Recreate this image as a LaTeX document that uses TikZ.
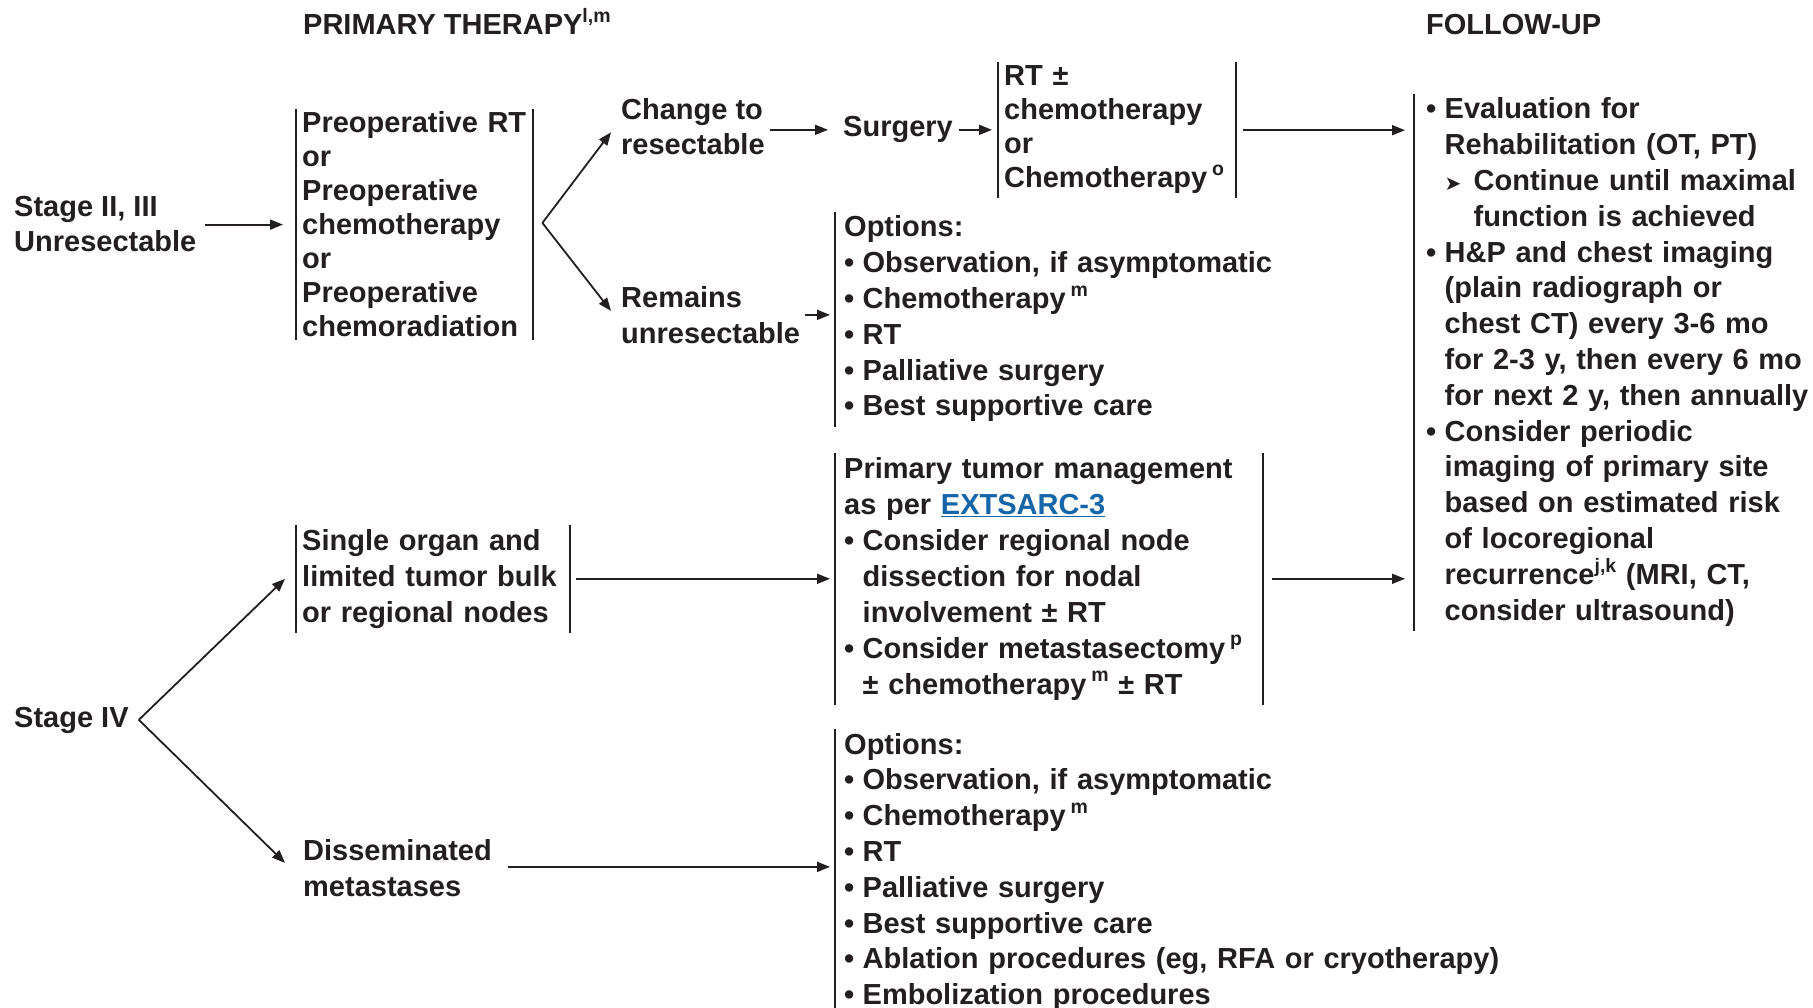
\documentclass[tikz,border=0pt]{standalone}
\usepackage{fontspec}
\setmainfont{Liberation Sans}
\newfontfamily\symfont{DejaVu Sans}
\usetikzlibrary{arrows.meta}

\definecolor{inkblack}{HTML}{231F20}
\definecolor{linkblue}{HTML}{1566A8}

\newcommand{\supr}[1]{\raisebox{0.42em}{\fontsize{19.5}{19.5}\selectfont #1}}
\newcommand{\bul}{\makebox[18.5pt][l]{\textbullet}}
\newcommand{\ind}{\hspace*{18.5pt}}
\newcommand{\subarr}{\makebox[29pt][l]{\symfont\fontsize{20}{20}\selectfont ➤}}

\begin{document}
\begin{tikzpicture}[x=1pt, y=-1pt, inkblack,
	txt/.style={font=\bfseries\fontsize{29}{35.8}\selectfont, text=inkblack, align=left, anchor=base west, inner sep=0pt, execute at begin node=\strut, execute at end node=\strut},
	leading/.style={font=\bfseries\fontsize{29}{#1}\selectfont},
	boxed/.style={txt, inner xsep=6pt},
	wideboxed/.style={txt, inner xsep=9pt},
	bar/.style={line width=2pt},
	arr/.style={line width=1.8pt, -{Triangle[length=13pt, width=10pt]}}]
		\useasboundingbox (0,0) rectangle (1813,1008);

		% Draw the column headings
		\node[txt] (headprim) at (303,35) {PRIMARY THERAPY\supr{l,m}};
		\node[txt] (headfollow) at (1426,35) {FOLLOW-UP};

		% Draw the stage II, III branch (plain nodes sit on their last line)
		\node[txt, leading=35] (stage23) at (14,252) {Stage II, III\\Unresectable};
		\node[boxed, leading=33.9, text width=225pt] (preop) at (296,133) {Preoperative RT\\or\\Preoperative\\chemotherapy\\or\\Preoperative\\chemoradiation};
		\node[txt, leading=35] (change) at (621,155) {Change to\\resectable};
		\node[txt, leading=36] (remain) at (621,344) {Remains\\unresectable};
		\node[txt] (surgery) at (843,137) {Surgery};
		\node[boxed, leading=34, text width=226pt] (adjuv) at (998,86) {RT ±\\chemotherapy\\or\\Chemotherapy\,\supr{o}};
		\node[wideboxed, text width=440pt] (opts1) at (835,237) {Options:\\
			\bul Observation, if asymptomatic\\
			\bul Chemotherapy\,\supr{m}\\
			\bul RT\\
			\bul Palliative surgery\\
			\bul Best supportive care};

		% Draw the follow-up column
		\node[txt, inner xsep=12pt, text width=395pt] (follow) at (1414,119) {\bul Evaluation for\\
			\ind Rehabilitation (OT, PT)\\
			\ind\subarr Continue until maximal\\
			\ind\hspace*{29pt}function is achieved\\
			\bul H\&P and chest imaging\\
			\ind (plain radiograph or\\
			\ind chest CT) every 3-6 mo\\
			\ind for 2-3 y, then every 6 mo\\
			\ind for next 2 y, then annually\\
			\bul Consider periodic\\
			\ind imaging of primary site\\
			\ind based on estimated risk\\
			\ind of locoregional\\
			\ind recurrence\supr{j,k} (MRI, CT,\\
			\ind consider ultrasound)};

		% Draw the stage IV branch
		\node[txt] (stage4) at (14,727) {Stage IV};
		\node[boxed, leading=36, text width=262pt] (single) at (296,550) {Single organ and\\limited tumor bulk\\or regional nodes};
		\node[wideboxed, leading=36, text width=410pt] (primtum) at (835,478) {Primary tumor management\\
			as per {\color{linkblue}\underline{EXTSARC-3}}\\
			\bul Consider regional node\\
			\ind dissection for nodal\\
			\ind involvement ± RT\\
			\bul Consider metastasectomy\,\supr{p}\\
			\ind ± chemotherapy\,\supr{m} ± RT};
		\node[txt, leading=36] (dissem) at (303,896) {Disseminated\\metastases};
		\node[wideboxed, text width=680pt] (opts2) at (835,754) {Options:\\
			\bul Observation, if asymptomatic\\
			\bul Chemotherapy\,\supr{m}\\
			\bul RT\\
			\bul Palliative surgery\\
			\bul Best supportive care\\
			\bul Ablation procedures (eg, RFA or cryotherapy)\\
			\bul Embolization procedures};

		% Draw the side bars of the boxes
		\draw[bar] (preop.north west) -- ([yshift=7pt]preop.south west);
		\draw[bar] (preop.north east) -- ([yshift=7pt]preop.south east);
		\draw[bar] (adjuv.north west) -- (adjuv.south west);
		\draw[bar] (adjuv.north east) -- (adjuv.south east);
		\draw[bar] (opts1.north west) -- (opts1.south west);
		\draw[bar] (follow.north west) -- (follow.south west);
		\draw[bar] (single.north west) -- (single.south west);
		\draw[bar] (single.north east) -- (single.south east);
		\draw[bar] (primtum.north west) -- (primtum.south west);
		\draw[bar] (primtum.north east) -- (primtum.south east);
		\draw[bar] (opts2.north west) -- (opts2.south west);

		% Draw the forks
		\coordinate (fork1) at ([xshift=9pt, yshift=5pt]preop.east);
		\coordinate (fork2) at ([xshift=10pt]stage4.east);

		% Draw the connectors
		\draw[arr, shorten <=8pt, shorten >=13pt] ([yshift=5pt]stage23.east) -- ([yshift=5pt]stage23.east -| preop.west);
		\draw[arr] (fork1) -- ([xshift=-10pt]change.west);
		\draw[arr] (fork1) -- ([xshift=-10pt, yshift=10pt]remain.west);
		\draw[arr, shorten <=5pt, shorten >=15pt] (surgery.west -| change.east) -- (surgery.west);
		\draw[arr, shorten <=6pt, shorten >=6pt] (surgery.east) -- (surgery.east -| adjuv.west);
		\draw[arr, shorten <=7pt, shorten >=9pt] (adjuv.east) -- (adjuv.east -| follow.west);
		\draw[arr, shorten <=5pt, shorten >=5pt] ([yshift=6pt]remain.east) -- ([yshift=6pt]remain.east -| opts1.west);
		\draw[arr] (fork2) -- ([xshift=-11pt]single.west);
		\draw[arr] (fork2) -- ([xshift=-18pt, yshift=10pt]dissem.west);
		\draw[arr, shorten <=6pt, shorten >=5pt] (single.east) -- (single.east -| primtum.west);
		\draw[arr, shorten <=9pt, shorten >=9pt] (primtum.east) -- (primtum.east -| follow.west);
		\draw[arr, shorten <=16pt, shorten >=5pt] ([yshift=6pt]dissem.east) -- ([yshift=6pt]dissem.east -| opts2.west);

	\end{tikzpicture}
\end{document}
